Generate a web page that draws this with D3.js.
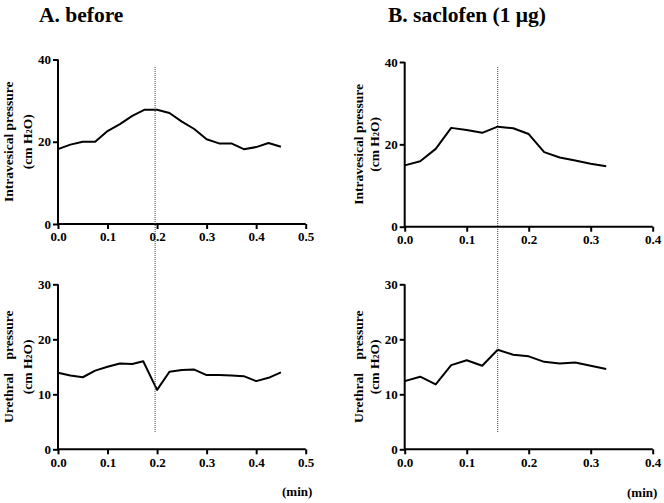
<!DOCTYPE html>
<html><head><meta charset="utf-8">
<script src="https://cdn.jsdelivr.net/npm/d3@7"></script>
<style>
body{margin:0;background:#fff;}
svg text{font-family:"Liberation Serif","DejaVu Serif","Times New Roman",Times,serif;font-weight:bold;fill:#000;}
</style></head>
<body><svg id="c" width="664" height="503"></svg>
<script>
// ---- data ----
const timeA = [0,0.025,0.05,0.075,0.1,0.125,0.15,0.175,0.2,0.225,0.25,0.275,0.3,0.325,0.35,0.375,0.4,0.425,0.45];
const vesicalA = [18.2,19.3,20.0,20.0,22.6,24.3,26.3,27.8,27.8,27.0,24.9,23.1,20.6,19.6,19.6,18.2,18.7,19.7,18.8];
const timeAU = [0,0.025,0.05,0.075,0.1,0.125,0.15,0.172,0.2,0.225,0.25,0.275,0.3,0.325,0.35,0.375,0.4,0.425,0.45];
const urethralA = [13.9,13.4,13.1,14.3,15.0,15.6,15.5,16.0,10.8,14.1,14.4,14.5,13.5,13.5,13.4,13.3,12.4,13.0,14.0];
const timeB = [0,0.025,0.05,0.075,0.1,0.125,0.15,0.175,0.2,0.225,0.25,0.275,0.3,0.325];
const vesicalB = [14.9,15.9,18.9,24.0,23.5,22.8,24.3,23.9,22.5,18.1,16.8,16.1,15.3,14.7];
const urethralB = [12.4,13.2,11.8,15.3,16.2,15.2,18.1,17.2,16.9,15.9,15.6,15.8,15.2,14.6];
const xTicksA = [0,0.1,0.2,0.3,0.4,0.5];
const xTicksB = [0,0.1,0.2,0.3,0.4];
const yTicksVesical = [0,20,40];
const yTicksUrethral = [0,10,20,30];
const markerA = 0.196, markerB = 0.15;
const titles = ["A. before", "B. saclofen (1 \u03bcg)"];

const FONT = '"Liberation Serif","DejaVu Serif","Times New Roman",Times,serif';
const svg = d3.select("#c");

const panels = [
  {l:58, r:305.7, t:59.5, b:224, xd:[0,0.5], xt:xTicksA, yd:[0,40], yt:yTicksVesical, xs:timeA, ys:vesicalA, lab1:"Intravesical pressure", o1:50, o2:31},
  {l:58, r:305.7, t:284.3, b:449.3, xd:[0,0.5], xt:xTicksA, yd:[0,30], yt:yTicksUrethral, xs:timeAU, ys:urethralA, lab1:"Urethral\u00a0\u00a0\u00a0 pressure", o1:50, o2:31},
  {l:404.7, r:652.7, t:62, b:226.7, xd:[0,0.4], xt:xTicksB, yd:[0,40], yt:yTicksVesical, xs:timeB, ys:vesicalB, lab1:"Intravesical pressure", o1:46, o2:31},
  {l:404.7, r:652.7, t:284.3, b:449.3, xd:[0,0.4], xt:xTicksB, yd:[0,30], yt:yTicksUrethral, xs:timeB, ys:urethralB, lab1:"Urethral\u00a0\u00a0\u00a0 pressure", o1:46, o2:31}
];

panels.forEach(p => {
  p.x = d3.scaleLinear().domain(p.xd).range([p.l, p.r]);
  p.y = d3.scaleLinear().domain(p.yd).range([p.b, p.t]);
  const g = svg.append("g");
  const ya = g.append("g").attr("transform", `translate(${p.l},0)`)
    .call(d3.axisLeft(p.y).tickValues(p.yt).tickSize(5).tickPadding(2).tickFormat(d3.format("d")));
  const xa = g.append("g").attr("transform", `translate(0,${p.b})`)
    .call(d3.axisBottom(p.x).tickValues(p.xt).tickSize(5).tickPadding(3).tickFormat(d3.format(".1f")));
  [ya, xa].forEach(a => {
    a.attr("font-family", FONT).attr("font-size", 13);
    a.select(".domain").attr("stroke", "#000").attr("stroke-width", 2);
    a.selectAll(".tick line").attr("stroke", "#000").attr("stroke-width", 2);
    a.selectAll(".tick text").attr("font-weight", "bold").attr("fill", "#000");
  });
  ya.select(".domain").attr("d", `M0,${p.b}V${p.t}`);
  xa.select(".domain").attr("d", `M${p.l},0H${p.r}`);

  const line = d3.line().x((d,i) => p.x(p.xs[i])).y(d => p.y(d));
  g.append("path").datum(p.ys).attr("d", line).attr("fill", "none")
    .attr("stroke", "#000").attr("stroke-width", 2).attr("stroke-linejoin", "round");

  const cy = (p.t + p.b) / 2;
  const lab = g.append("g").attr("transform", `translate(${p.l - p.o1},${cy}) rotate(-90)`);
  lab.append("text").attr("text-anchor", "middle").attr("dominant-baseline", "central")
    .attr("font-size", 13.5).text(p.lab1);
  const lab2 = g.append("g").attr("transform", `translate(${p.l - p.o2},${cy}) rotate(-90)`);
  const t2 = lab2.append("text").attr("text-anchor", "middle").attr("dominant-baseline", "central").attr("font-size", 13.5);
  t2.append("tspan").text("(cm H");
  t2.append("tspan").attr("font-size", 8.5).attr("dy", 2).text("2");
  t2.append("tspan").attr("dy", -2).text("O)");
});

[[panels[0], markerA], [panels[2], markerB]].forEach(([p, m]) => {
  svg.append("line").attr("x1", p.x(m)).attr("x2", p.x(m)).attr("y1", 67).attr("y2", 432)
    .attr("stroke", "#444").attr("stroke-width", 1).attr("stroke-dasharray", "1,1");
});

svg.append("text").attr("x", 39).attr("y", 22).attr("font-size", 21.5).text(titles[0]);
svg.append("text").attr("x", 388).attr("y", 22).attr("font-size", 21.5).text(titles[1]);
svg.append("text").attr("x", 282).attr("y", 496).attr("font-size", 13).text("(min)");
svg.append("text").attr("x", 627).attr("y", 497).attr("font-size", 13).text("(min)");
</script></body></html>
